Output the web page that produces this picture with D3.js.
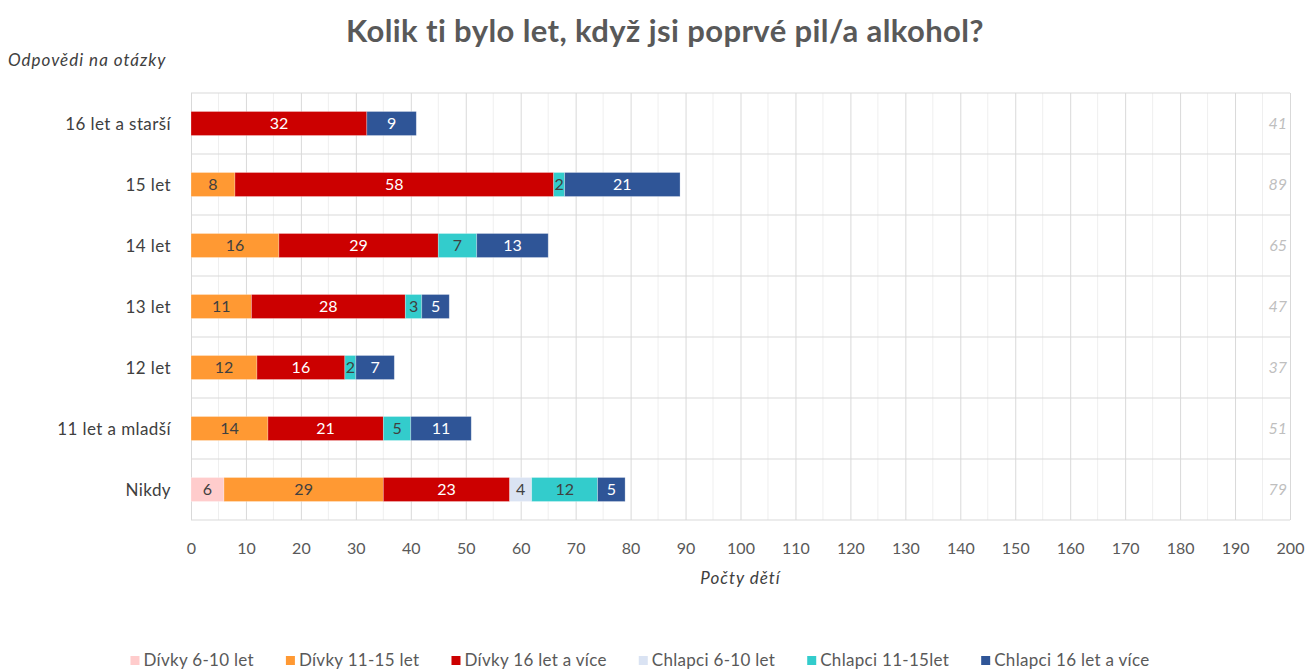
<!DOCTYPE html>
<html><head><meta charset="utf-8">
<script src="https://cdn.jsdelivr.net/npm/d3@7"></script>
<style>body{margin:0;background:#fff;}svg{display:block;font-family:Lato,"Open Sans",sans-serif;}</style>
</head><body><svg id="c" width="1309" height="670"></svg>
<script>
const categories = ["16 let a starší","15 let","14 let","13 let","12 let","11 let a mladší","Nikdy"];
const seriesNames = ["Dívky 6-10 let","Dívky 11-15 let","Dívky 16 let a více","Chlapci 6-10 let","Chlapci 11-15let","Chlapci 16 let a více"];
const divky610   = [0,0,0,0,0,0,6];
const divky1115  = [0,8,16,11,12,14,29];
const divky16    = [32,58,29,28,16,21,23];
const chlapci610 = [0,0,0,0,0,0,4];
const chlapci1115= [0,2,7,3,2,5,12];
const chlapci16  = [9,21,13,5,7,11,5];
const totals     = [41,89,65,47,37,51,79];
const xTicks = d3.range(0,201,10);
const colors = ["#FFCCCC","#FF9933","#CC0000","#DAE3F3","#33CCCC","#2F5597"];
const labelColors = ["#404040","#404040","#ffffff","#404040","#404040","#ffffff"];

const seriesVals = [divky610,divky1115,divky16,chlapci610,chlapci1115,chlapci16];
const rows = categories.map((c,i)=>{const o={cat:c}; seriesNames.forEach((s,j)=>o[s]=seriesVals[j][i]); return o;});
const stack = d3.stack().keys(seriesNames)(rows);

const svg = d3.select("#c");
const L=191, R=1290, T=93, B=520;
const x = d3.scaleLinear().domain([0,200]).range([L,R]);
const y = d3.scaleBand().domain(categories).range([T,B]).paddingInner(0).paddingOuter(0);
const barH = 24;

// minor gridlines
svg.append("g").selectAll("line").data(d3.range(5,200,10)).join("line")
  .attr("x1",d=>x(d)).attr("x2",d=>x(d)).attr("y1",T).attr("y2",B)
  .attr("stroke","#efefef").attr("stroke-width",1);
// horizontal gridlines
svg.append("g").selectAll("line").data(d3.range(0,categories.length+1)).join("line")
  .attr("x1",L).attr("x2",R).attr("y1",d=>T+d*y.step()).attr("y2",d=>T+d*y.step())
  .attr("stroke","#d9d9d9").attr("stroke-width",1);
// major gridlines via axis
const xAxis = svg.append("g").attr("transform",`translate(0,${B})`)
  .call(d3.axisBottom(x).tickValues(xTicks).tickSize(-(B-T)).tickPadding(23));
xAxis.select(".domain").remove();
xAxis.selectAll(".tick line").attr("stroke","#d9d9d9").attr("stroke-width",1);
xAxis.selectAll(".tick text").attr("fill","#595959").style("font-size","16px").style("font-family","Lato");

// bars
const g = svg.append("g");
stack.forEach((s,j)=>{
  const gg = g.append("g");
  gg.selectAll("rect").data(s.filter(d=>d[1]-d[0]>0)).join("rect")
    .attr("x",d=>x(d[0])).attr("width",d=>x(d[1])-x(d[0]))
    .attr("y",d=>y(d.data.cat)+y.bandwidth()/2-barH/2).attr("height",barH)
    .attr("fill",colors[j]).attr("stroke","#ffffff").attr("stroke-opacity",0.35).attr("stroke-width",0.75);
  gg.selectAll("text").data(s.filter(d=>d[1]-d[0]>0)).join("text")
    .attr("x",d=>(x(d[0])+x(d[1]))/2).attr("y",d=>y(d.data.cat)+y.bandwidth()/2)
    .attr("dy","0.36em").attr("text-anchor","middle")
    .attr("fill",labelColors[j]).style("font-size","16px")
    .text(d=>d[1]-d[0]);
});

// category labels
svg.append("g").selectAll("text").data(categories).join("text")
  .attr("x",171).attr("y",d=>y(d)+y.bandwidth()/2).attr("dy","0.36em")
  .attr("text-anchor","end").attr("fill","#404040").style("font-size","17px").style("letter-spacing","0.4px").text(d=>d);

// totals
svg.append("g").selectAll("text").data(categories).join("text")
  .attr("x",1287).attr("y",(d)=>y(d)+y.bandwidth()/2).attr("dy","0.36em")
  .attr("text-anchor","end").attr("fill","#bfbfbf").style("font-size","16px").style("font-style","italic")
  .text((d,i)=>totals[i]);

// title
svg.append("text").attr("x",665).attr("y",42).attr("text-anchor","middle")
  .attr("fill","#595959").style("font-size","31px").style("font-weight","bold").style("letter-spacing","0.4px")
  .text("Kolik ti bylo let, když jsi poprvé pil/a alkohol?");
svg.append("text").attr("x",8).attr("y",66).attr("fill","#404040")
  .style("font-size","17px").style("font-style","italic").style("letter-spacing","1px").text("Odpovědi na otázky");
svg.append("text").attr("x",(L+R)/2).attr("y",584).attr("text-anchor","middle").attr("fill","#404040")
  .style("font-size","17px").style("font-style","italic").style("letter-spacing","1px").text("Počty dětí");

// legend
const lg = svg.append("g");
const items = lg.selectAll("g").data(seriesNames).join("g");
items.append("rect").attr("width",9).attr("height",9).attr("y",-10).attr("fill",(d,i)=>colors[i]);
items.append("text").attr("x",13).attr("y",0).attr("fill","#595959").style("font-size","17px").style("letter-spacing","0.3px").text(d=>d);
let widths = [];
items.each(function(){widths.push(13+d3.select(this).select("text").node().getComputedTextLength());});
const gap = 32;
const total = d3.sum(widths)+gap*(widths.length-1);
let cx = 640 - total/2;
items.attr("transform",(d,i)=>{const t=`translate(${cx},666)`; cx+=widths[i]+gap; return t;});
</script></body></html>
